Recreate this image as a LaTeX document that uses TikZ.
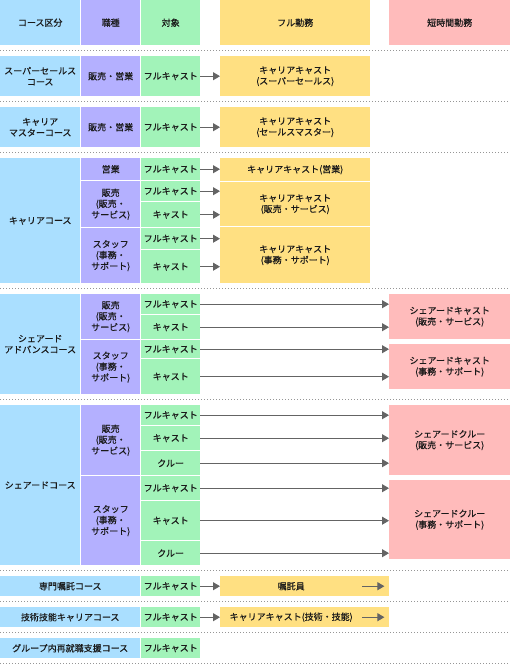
\documentclass[tikz,border=0pt]{standalone}
\usepackage{fontspec}
\setmainfont{Noto Sans CJK JP}[FakeBold=0.4]
\usetikzlibrary{arrows.meta}
\definecolor{cblue}{RGB}{170,223,255}
\definecolor{cpurple}{RGB}{180,176,255}
\definecolor{cgreen}{RGB}{162,243,185}
\definecolor{cyellow}{RGB}{255,224,130}
\definecolor{cpink}{RGB}{255,187,187}
\definecolor{cgray}{RGB}{100,100,100}
\definecolor{cdots}{RGB}{150,150,150}
\begin{document}
\begin{tikzpicture}[x=1pt, y=-1pt,
    every node/.style={inner sep=0, align=center, text=black!90, font=\fontsize{9}{11}\selectfont},
    cellbox/.style 2 args={anchor=north west, minimum width=#1pt, minimum height=#2pt},
    conn/.style={draw=cgray, line width=1pt, -{Triangle[length=7pt,width=8pt]}},
    sepline/.style={draw=cdots, line width=1pt, dash pattern=on 1pt off 2pt}]
  \useasboundingbox (0,0) rectangle (510,664);

  % Header row
  \node[cellbox={80}{45}, fill=cblue] (hcourse) at (0,0) {コース区分};
  \node[cellbox={59}{45}, fill=cpurple] (hjob) at (81,0) {職種};
  \node[cellbox={59}{45}, fill=cgreen] (htarget) at (141,0) {対象};
  \node[cellbox={150}{45}, fill=cyellow] (hfull) at (220,0) {フル勤務};
  \node[cellbox={121}{45}, fill=cpink] (hshort) at (389,0) {短時間勤務};

  % Course column
  \node[cellbox={80}{40}, fill=cblue] (c1) at (0,56) {スーパーセールス\\コース};
  \node[cellbox={80}{40}, fill=cblue] (c2) at (0,107) {キャリア\\マスターコース};
  \node[cellbox={80}{125}, fill=cblue] (c3) at (0,158) {キャリアコース};
  \node[cellbox={80}{100}, fill=cblue] (c4) at (0,294) {シェアード\\アドバンスコース};
  \node[cellbox={80}{160}, fill=cblue] (c5) at (0,405) {シェアードコース};
  \node[cellbox={140}{20}, fill=cblue] (c6) at (0,576) {専門嘱託コース};
  \node[cellbox={140}{20}, fill=cblue] (c7) at (0,607) {技術技能キャリアコース};
  \node[cellbox={140}{20}, fill=cblue] (c8) at (0,638) {グループ内再就職支援コース};

  % Job column
  \foreach \nm/\y/\h/\txt in {
      j1/56/40/販売・営業, j2/107/40/販売・営業, j3/158/22/営業,
      j4/181/46/販売\\(販売・\\サービス), j5/228/55/スタッフ\\(事務・\\サポート),
      j6/294/45/販売\\(販売・\\サービス), j7/340/54/スタッフ\\(事務・\\サポート),
      j8/405/70/販売\\(販売・\\サービス), j9/476/89/スタッフ\\(事務・\\サポート)} {
    \node[cellbox={59}{\h}, fill=cpurple] (\nm) at (81,\y) {\txt};
  }

  % Target column
  \foreach \nm/\y/\h/\txt in {
      t1/56/40/フルキャスト, t2/107/40/フルキャスト,
      t3/158/22/フルキャスト, t4/181/20/フルキャスト, t5/202/25/キャスト,
      t6/228/21/フルキャスト, t7/250/33/キャスト,
      t8/294/20/フルキャスト, t9/315/24/キャスト, t10/340/18/フルキャスト, t11/359/35/キャスト,
      t12/405/20/フルキャスト, t13/426/24/キャスト, t14/451/24/クルー,
      t15/476/24/フルキャスト, t16/501/39/キャスト, t17/541/24/クルー,
      t18/576/20/フルキャスト, t19/607/20/フルキャスト, t20/638/20/フルキャスト} {
    \node[cellbox={59}{\h}, fill=cgreen] (\nm) at (141,\y) {\txt};
  }

  % Full-time column
  \node[cellbox={150}{40}, fill=cyellow] (f1) at (220,56) {キャリアキャスト\\(スーパーセールス)};
  \node[cellbox={150}{40}, fill=cyellow] (f2) at (220,107) {キャリアキャスト\\(セールスマスター)};
  \node[cellbox={150}{23}, fill=cyellow] (f3) at (220,158) {キャリアキャスト(営業)};
  \node[cellbox={150}{44}, fill=cyellow] (f4) at (220,182) {キャリアキャスト\\(販売・サービス)};
  \node[cellbox={150}{56}, fill=cyellow] (f5) at (220,227) {キャリアキャスト\\(事務・サポート)};
  \node[cellbox={169}{20}, fill=cyellow] (f6) at (220,576) {};
  \node (f6txt) at ([xshift=-13.5pt]f6.center) {嘱託員};
  \node[cellbox={169}{20}, fill=cyellow] (f7) at (220,607) {};
  \node (f7txt) at ([xshift=-13.5pt]f7.center) {キャリアキャスト(技術・技能)};

  % Short-time column
  \node[cellbox={121}{45}, fill=cpink] (s1) at (389,294) {シェアードキャスト\\(販売・サービス)};
  \node[cellbox={121}{45}, fill=cpink] (s2) at (389,344) {シェアードキャスト\\(事務・サポート)};
  \node[cellbox={121}{70}, fill=cpink] (s3) at (389,405) {シェアードクルー\\(販売・サービス)};
  \node[cellbox={121}{79}, fill=cpink] (s4) at (389,480) {シェアードクルー\\(事務・サポート)};

  % Arrows
  \foreach \a/\b in {t1/f1, t2/f2, t3/f3, t4/f4, t5/f4, t6/f5, t7/f5, t18/f6, t19/f7,
      t8/s1, t9/s1, t10/s2, t11/s2, t12/s3, t13/s3, t14/s3, t15/s4, t16/s4, t17/s4} {
    \draw[conn] (\a.east) -- (\a.east -| \b.west);
  }
  \foreach \b in {f6, f7} {
    \draw[conn] ([xshift=-27pt]\b.east) -- ([xshift=-5pt]\b.east);
  }

  % Dotted separators
  \foreach \y in {50.5, 101.5, 152.5, 288.5, 399.5, 570.5, 601.5, 632.5, 663.5} {
    \draw[sepline] (0,\y) -- (510,\y);
  }
\end{tikzpicture}
\end{document}
